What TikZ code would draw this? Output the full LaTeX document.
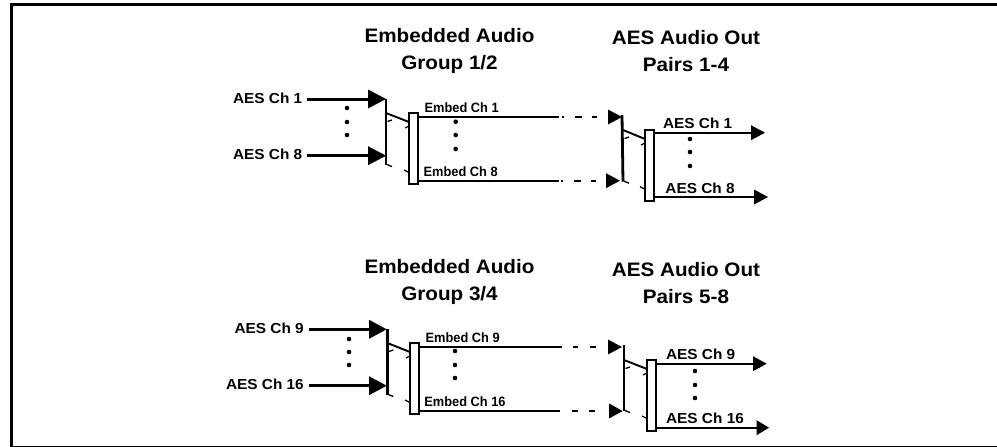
\documentclass[tikz,border=0pt]{standalone}
\usepackage{fontspec}
\setmainfont{Liberation Sans}
\tikzset{
  x=1pt,y=-1pt,
  frameline/.style={line width=3pt},
  titletext/.style={font=\fontsize{19.5}{27}\selectfont\bfseries,inner sep=0pt,align=center,xscale=1.06},
  inlabel/.style={font=\fontsize{14.5}{16}\selectfont\bfseries,inner sep=0pt,anchor=east,xscale=1.06},
  outlabel/.style={font=\fontsize{14.5}{16}\selectfont\bfseries,inner sep=0pt,xscale=1.06},
  emblabel/.style={font=\fontsize{13.5}{14}\selectfont\bfseries,inner sep=0pt,xscale=.95},
  thickarrow/.style={line width=3pt},
  thinarrow/.style={line width=1.9pt},
  busbar/.style={line width=2.8pt},
  linkline/.style={line width=1.9pt},
  stubline/.style={line width=1.3pt},
  mergebox/.style={draw=black,line width=1.9pt,fill=white,inner sep=0pt,outer sep=0pt,anchor=north west},
  headfill/.style={fill=black,draw=none},
  dotmark/.style={fill=black,circle,inner sep=0pt,minimum size=4.6pt}
}
\newcommand{\headat}[4]{\fill[headfill] (#1,#2) -- (#3,#2-#4) -- (#3,#2+#4) -- cycle;}
\newcommand{\threedots}[5]{%
  \node[dotmark] (#5a) at (#1,#2) {};
  \node[dotmark] (#5b) at (#1,#3) {};
  \node[dotmark] (#5c) at (#1,#4) {};}
\newcommand{\stubs}[4]{%
  \draw[stubline] (#1+1.5,#2+8.5) -- (#1+6,#2+7);
  \draw[stubline] (#3-4,#2+15) -- (#3,#2+13);
  \draw[stubline] (#1+1,#4-.5) -- (#1+6,#4+1.5);
  \draw[stubline] (#3-5,#4+5) -- (#3,#4+7.5);}
\begin{document}
\begin{tikzpicture}
\useasboundingbox (0,0) rectangle (997,447);
\fill[white] (0,0) rectangle (997,447);
\coordinate (fbl) at (11.5,447.2);
\coordinate (ftl) at (11.5,4.5);
\coordinate (ftr) at (997,4.5);
\coordinate (fbr) at (997,447.2);
\draw[frameline] (ftr) -- (ftl) -- (fbl) -- (fbr);

% ---------- upper group ----------
\node[titletext] (t1) at (449.5,51) {Embedded Audio\\Group 1/2};
\node[titletext] (t2) at (686,51.5) {AES Audio Out\\Pairs 1-4};

\node[inlabel] (i1) at (302.5,98) {AES Ch 1};
\node[inlabel] (i8) at (302.5,154.5) {AES Ch 8};
\coordinate (a1s) at (306.5,99);   \coordinate (a1e) at (372,99);
\coordinate (a8s) at (306.5,155.7);\coordinate (a8e) at (372,155.7);
\draw[thickarrow] (a1s) -- (a1e);
\draw[thickarrow] (a8s) -- (a8e);
\headat{386}{99}{368}{9.5}
\headat{386}{155.7}{368}{9.5}
\threedots{347}{108}{122}{135}{d1}
\coordinate (b1t) at (386,99); \coordinate (b1b) at (386,165);
\draw[busbar] (b1t) -- (b1b);
\node[mergebox,minimum width=9.3pt,minimum height=71.3pt] (m1) at (409,112.7) {};
\coordinate (l1a) at (386,113);
\draw[linkline] (l1a) -- (m1.west |- 0,122);
\stubs{386}{113}{409}{165}
\node[emblabel] (e1) at (461.7,107.7) {Embed Ch 1};
\node[emblabel] (e8) at (460.7,171.7) {Embed Ch 8};
\threedots{455.7}{121.7}{135}{149}{d2}
\coordinate (o1) at (559,117); \coordinate (o8) at (559,180.7);
\draw[thinarrow] (m1.east |- o1) -- (o1);
\draw[thinarrow] (m1.east |- o8) -- (o8);
\draw[thinarrow] (561.5,117) -- (564,117) (575,117) -- (582,117) (592,117) -- (597,117);
\draw[thinarrow] (560.5,180.7) -- (563,180.7) (574,180.7) -- (581,180.7) (591,180.7) -- (596,180.7);
\headat{622}{117}{608}{7.5}
\headat{620}{180.7}{606}{7.5}
\coordinate (b2t) at (622,115); \coordinate (b2b) at (623,181.7);
\draw[busbar] (b2t) -- (b2b);
\node[mergebox,minimum width=9pt,minimum height=71pt] (m2) at (645,130) {};
\coordinate (l2a) at (623,130);
\draw[linkline] (l2a) -- (m2.west |- 0,139);
\stubs{623}{130}{645}{181.7}
\node[outlabel] (a1) at (697.7,123) {AES Ch 1};
\node[outlabel] (a8) at (700,188) {AES Ch 8};
\coordinate (x1) at (753,132.7); \coordinate (x8) at (756,197);
\draw[thinarrow] (m2.east |- x1) -- (x1);
\draw[thinarrow] (m2.east |- x8) -- (x8);
\headat{765}{132.7}{751}{7.5}
\headat{768}{197}{754}{7.5}
\threedots{690}{139}{152}{166}{d3}

% ---------- lower group ----------
\node[titletext] (t3) at (449.5,281.5) {Embedded Audio\\Group 3/4};
\node[titletext] (t4) at (686,283) {AES Audio Out\\Pairs 5-8};

\node[inlabel] (i9) at (304,328) {AES Ch 9};
\node[inlabel] (i16) at (304,384) {AES Ch 16};
\coordinate (a9s) at (308.7,329.3);  \coordinate (a9e) at (373,329.3);
\coordinate (a16s) at (308.7,385.7); \coordinate (a16e) at (373,385.7);
\draw[thickarrow] (a9s) -- (a9e);
\draw[thickarrow] (a16s) -- (a16e);
\headat{386.7}{329.3}{369}{9.5}
\headat{386.7}{385.7}{369}{9.5}
\threedots{349}{339}{352}{365}{d4}
\coordinate (b3t) at (387.3,329); \coordinate (b3b) at (387.3,395);
\draw[busbar] (b3t) -- (b3b);
\node[mergebox,minimum width=9pt,minimum height=71pt] (m3) at (410,343) {};
\coordinate (l3a) at (387.3,343);
\draw[linkline] (l3a) -- (m3.west |- 0,352);
\stubs{387.3}{343}{410}{395}
\node[emblabel] (e9) at (462.7,338) {Embed Ch 9};
\node[emblabel] (e16) at (465,401.5) {Embed Ch 16};
\threedots{455}{351}{365}{378}{d5}
\coordinate (o9) at (561.7,347); \coordinate (o16) at (560,411);
\draw[thinarrow] (m3.east |- o9) -- (o9);
\draw[thinarrow] (m3.east |- o16) -- (o16);
\draw[thinarrow] (573,347) -- (578,347) (590,347) -- (596,347);
\draw[thinarrow] (572,411) -- (577.5,411) (589,411) -- (595,411);
\headat{622}{347}{608}{7.5}
\headat{622.7}{411}{609}{7.5}
\coordinate (b4t) at (624,345); \coordinate (b4b) at (624,411);
\draw[busbar] (b4t) -- (b4b);
\node[mergebox,minimum width=9.3pt,minimum height=70.7pt] (m4) at (647,360) {};
\coordinate (l4a) at (624,360);
\draw[linkline] (l4a) -- (m4.west |- 0,369);
\stubs{624}{360}{647}{411}
\node[outlabel] (a9) at (700.7,354) {AES Ch 9};
\node[outlabel] (a16) at (705,418) {AES Ch 16};
\coordinate (x9) at (755,363.7); \coordinate (x16) at (758.7,427.7);
\draw[thinarrow] (m4.east |- x9) -- (x9);
\draw[thinarrow] (m4.east |- x16) -- (x16);
\headat{766.7}{363.7}{753}{7.5}
\headat{769}{427.7}{756.7}{7.5}
\threedots{695}{371}{385}{398}{d6}
\end{tikzpicture}
\end{document}
